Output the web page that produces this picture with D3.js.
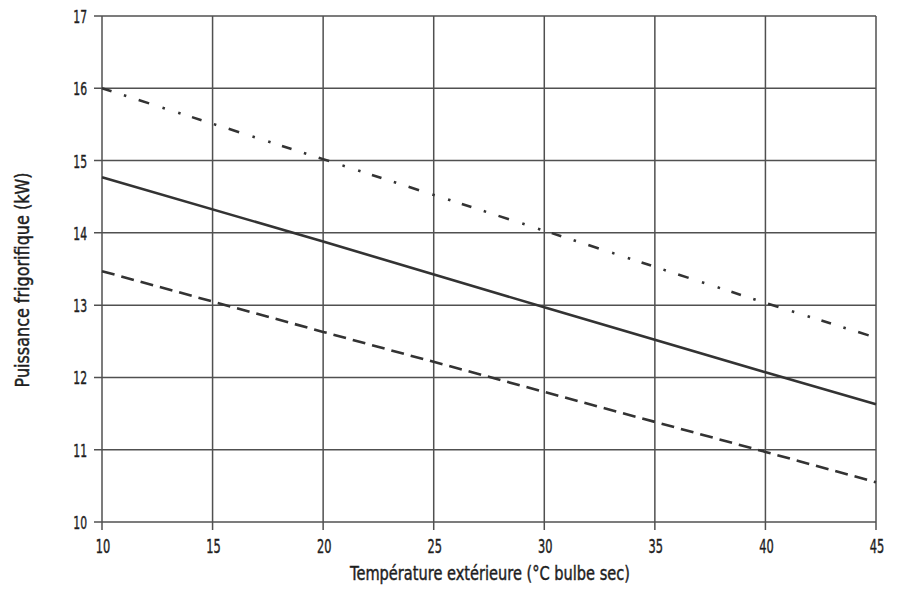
<!DOCTYPE html>
<html><head><meta charset="utf-8">
<script src="https://cdn.jsdelivr.net/npm/d3@7"></script>
<style>
body{margin:0;background:#fff;}
text{font-family:"DejaVu Sans",sans-serif;fill:#1e1e1e;stroke:#1e1e1e;stroke-width:0.45px;}
</style></head><body>
<svg id="c" width="901" height="591"></svg>
<script>
const temps = [10, 20, 30, 40, 45];
const seriesDashDot = [16.0, 15.02, 14.03, 13.03, 12.55];
const seriesSolid = [14.77, 13.88, 12.97, 12.07, 11.63];
const seriesDashed = [13.47, 12.63, 11.80, 10.97, 10.55];
const xTicks = [10, 15, 20, 25, 30, 35, 40, 45];
const yTicks = [10, 11, 12, 13, 14, 15, 16, 17];
const xTitle = "Température extérieure (°C bulbe sec)";
const yTitle = "Puissance frigorifique (kW)";

const svg = d3.select("#c");
const x = d3.scaleLinear().domain([10, 45]).range([102, 876]);
const y = d3.scaleLinear().domain([10, 17]).range([522, 16]);
const grid = "#505050";
const sx = 0.6;

// grid
svg.append("g").selectAll("line").data(xTicks).join("line")
  .attr("x1", d => x(d)).attr("x2", d => x(d)).attr("y1", y(17)).attr("y2", y(10) + 8)
  .attr("stroke", grid).attr("stroke-width", 1.5);
svg.append("g").selectAll("line").data(yTicks).join("line")
  .attr("y1", d => y(d)).attr("y2", d => y(d)).attr("x1", x(10) - 8).attr("x2", x(45))
  .attr("stroke", grid).attr("stroke-width", 1.5);

// tick labels
svg.append("g").selectAll("text").data(xTicks).join("text")
  .attr("transform", d => `translate(${x(d) + 1},${y(10) + 31}) scale(${sx},1)`)
  .attr("text-anchor", "middle").attr("font-size", 19).text(d => d);
svg.append("g").selectAll("text").data(yTicks).join("text")
  .attr("transform", d => `translate(${x(10) - 15},${y(d) + 7}) scale(${sx},1)`)
  .attr("text-anchor", "end").attr("font-size", 18).text(d => d);

svg.append("text").attr("x", 490).attr("y", 580).attr("text-anchor", "middle")
  .attr("font-size", 19).attr("textLength", 280).attr("lengthAdjust", "spacingAndGlyphs")
  .text(xTitle);
svg.append("text").attr("transform", "translate(29,280) rotate(-90)").attr("text-anchor", "middle")
  .attr("font-size", 19).attr("textLength", 215).attr("lengthAdjust", "spacingAndGlyphs")
  .text(yTitle);

const line = d3.line().x((d, i) => x(temps[i])).y(d => y(d));
const lc = "#333";
svg.append("path").attr("d", line(seriesSolid)).attr("fill", "none")
  .attr("stroke", lc).attr("stroke-width", 2.6);
svg.append("path").attr("d", line(seriesDashed)).attr("fill", "none")
  .attr("stroke", lc).attr("stroke-width", 2.6).attr("stroke-dasharray", "13,7");
svg.append("path").attr("d", line(seriesDashDot)).attr("fill", "none")
  .attr("stroke", lc).attr("stroke-width", 2.6)
  .attr("stroke-dasharray", "10,13,2.5,13,11,14,2.5,14,2.5,12");
</script></body></html>
